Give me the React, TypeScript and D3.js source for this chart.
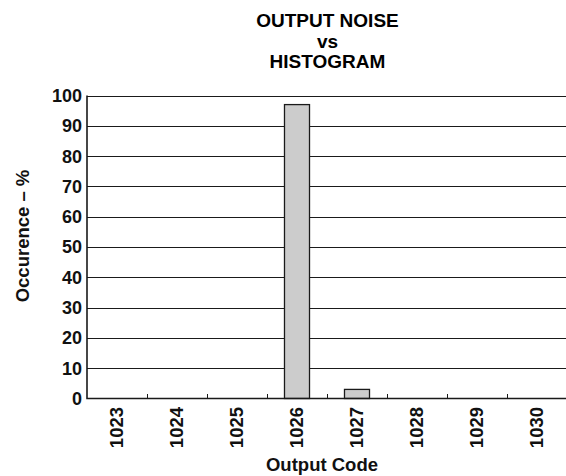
import React, { useEffect, useRef } from 'react'
import * as d3 from 'd3'

// output codes on the x axis
const codes = ['1023', '1024', '1025', '1026', '1027', '1028', '1029', '1030']
// occurrence in percent
const occurrence = [0, 0, 0, 97, 3, 0, 0, 0]
const yTicks = [0, 10, 20, 30, 40, 50, 60, 70, 80, 90, 100]
const titleLines = ['OUTPUT NOISE', 'vs', 'HISTOGRAM']

const W = 566
const H = 476
const margin = { top: 95.5, right: -1, bottom: 77.5, left: 87 }
const FONT = '"Liberation Sans", Arial, Helvetica, sans-serif'
const INK = '#1a1a1a'

function App() {
    const ref = useRef<SVGSVGElement>(null)

    useEffect(() => {
        const svg = d3.select(ref.current)
        svg.selectAll('*').remove()

        const x0 = margin.left
        const x1 = W - margin.right
        const y0 = H - margin.bottom
        const y1 = margin.top

        const x = d3.scaleBand<string>().domain(codes).range([x0, x1]).paddingInner(0)
        const bar = d3.scaleBand<string>().domain(codes).range([x0, x1])
            .paddingInner(0.583).paddingOuter(0.2915)
        const y = d3.scaleLinear().domain([0, 100]).range([y0, y1])

        const g = svg.append('g')

        // title
        g.selectAll('text.title')
            .data(titleLines)
            .enter()
            .append('text')
            .attr('class', 'title')
            .attr('x', 327.5)
            .attr('y', (d, i) => 27.3 + i * 20.4)
            .attr('text-anchor', 'middle')
            .style('font', `bold 19px ${FONT}`)
            .attr('fill', '#000')
            .text(d => d)

        // horizontal grid
        g.selectAll('line.grid')
            .data(yTicks.filter(t => t > 0))
            .enter()
            .append('line')
            .attr('class', 'grid')
            .attr('x1', x0)
            .attr('x2', x1)
            .attr('y1', d => Math.round(y(d)) + 0.5)
            .attr('y2', d => Math.round(y(d)) + 0.5)
            .attr('stroke', INK)
            .attr('stroke-width', 1)

        // y tick labels
        g.selectAll('text.ytick')
            .data(yTicks)
            .enter()
            .append('text')
            .attr('class', 'ytick')
            .attr('x', 82)
            .attr('y', d => y(d))
            .attr('dy', '0.36em')
            .attr('text-anchor', 'end')
            .style('font', `bold 18px ${FONT}`)
            .attr('fill', '#111')
            .text(d => d)

        // bars
        const data = codes.map((c, i) => ({ code: c, value: occurrence[i] })).filter(d => d.value > 0)
        g.selectAll('rect.bar')
            .data(data)
            .enter()
            .append('rect')
            .attr('class', 'bar')
            .attr('x', d => bar(d.code) as number)
            .attr('width', bar.bandwidth())
            .attr('y', d => y(d.value))
            .attr('height', d => y(0) - y(d.value))
            .attr('fill', '#cccccc')
            .attr('stroke', INK)
            .attr('stroke-width', 1.3)

        // bottom ticks, pointing inward at band boundaries
        g.selectAll('line.xtick')
            .data(codes.slice(1))
            .enter()
            .append('line')
            .attr('class', 'xtick')
            .attr('x1', d => Math.round(x(d) as number) + 0.5)
            .attr('x2', d => Math.round(x(d) as number) + 0.5)
            .attr('y1', y0)
            .attr('y2', y0 - 4.5)
            .attr('stroke', INK)
            .attr('stroke-width', 1)

        // axes lines
        g.append('path')
            .attr('d', `M${x0},${y1}V${y0}H${x1}`)
            .attr('fill', 'none')
            .attr('stroke', INK)
            .attr('stroke-width', 1.6)

        // x tick labels, rotated
        g.selectAll('text.xlabel')
            .data(codes)
            .enter()
            .append('text')
            .attr('class', 'xlabel')
            .attr('transform', d => `translate(${(x(d) as number) + x.bandwidth() / 2 + 5.7},407) rotate(-90)`)
            .attr('text-anchor', 'end')
            .style('font', `bold 18.5px ${FONT}`)
            .attr('fill', '#111')
            .text(d => d)

        // axis titles
        g.append('text')
            .attr('x', 322)
            .attr('y', 471)
            .attr('text-anchor', 'middle')
            .style('font', `bold 18.5px ${FONT}`)
            .attr('fill', '#111')
            .text('Output Code')

        g.append('text')
            .attr('transform', 'translate(29,236) rotate(-90)')
            .attr('text-anchor', 'middle')
            .style('font', `bold 18.5px ${FONT}`)
            .attr('fill', '#111')
            .text('Occurence – %')
    }, [])

    return (
        <svg ref={ref} width={W} height={H}
            style={{ position: 'absolute', left: 0, top: 0, background: '#fff' }} />
    )
}

export default App
